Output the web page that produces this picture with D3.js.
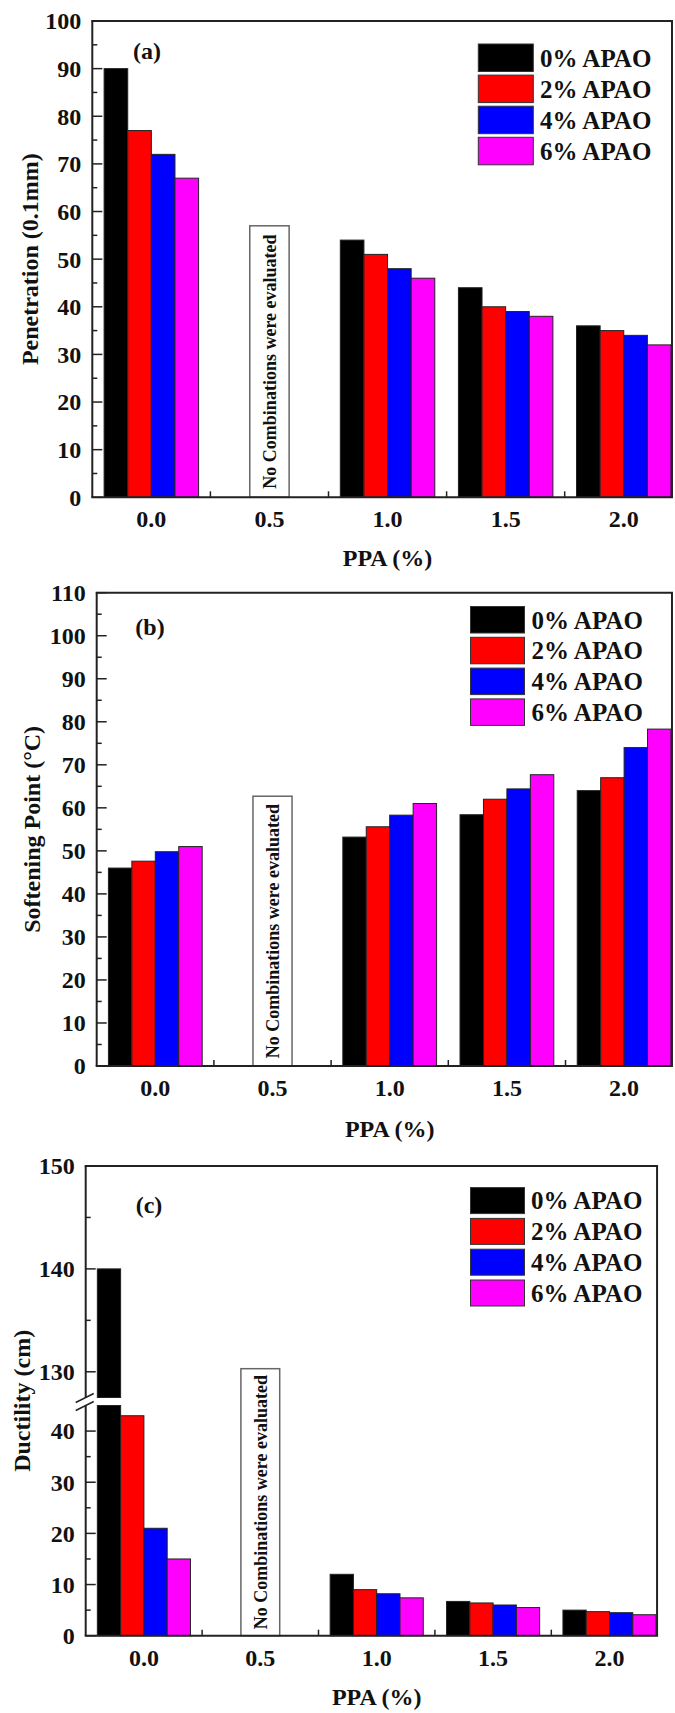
<!DOCTYPE html>
<html>
<head>
<meta charset="utf-8">
<script src="https://cdn.jsdelivr.net/npm/d3@7"></script>
<style>
  body { margin: 0; background: #fff; }
  svg text { font-family: "Liberation Serif", "Times New Roman", serif; font-weight: bold; fill: #111; }
</style>
</head>
<body>
<script>
  // PPA dosage groups and APAO series
  var categories = ["0.0", "0.5", "1.0", "1.5", "2.0"];
  var series = ["0% APAO", "2% APAO", "4% APAO", "6% APAO"];
  var colors = ["#000000", "#ff0000", "#0000ff", "#ff00ff"];

  // one row per PPA group, null where nothing was tested
  var penetration = [[90, 77, 72, 67], null, [54, 51, 48, 46], [44, 40, 39, 38], [36, 35, 34, 32]];
  var softening = [[46, 47.6, 49.8, 51], null, [53.2, 55.6, 58.3, 61], [58.4, 62, 64.4, 67.7], [64, 67, 74, 78.3]];
  var ductility = [[140, 43, 21, 15], null, [12, 9, 8.2, 7.4], [6.7, 6.4, 6, 5.5], [5, 4.7, 4.5, 4.1]];

  // height of the empty-group note box, in axis units
  var noteTop = [57, 62.7, 130.3];
  var noteText = "No Combinations were evaluated";

  var width = 675;
  var height = 1713;
  var svg = d3.select('body').append('svg')
    .attr('width', width)
    .attr('height', height);

  var panels = [
    { tag: "(a)", title: "Penetration (0.1mm)", data: penetration, note: noteTop[0],
      left: 92.3, band: 118.1,
      segs: [{ d: [0, 100], r: [497.3, 21] }],
      tagPos: [147, 59], xLabelY: 527, xTitleY: 566, yTitleX: 30,
      legend: { x: 478.3, y: 44, pitch: 31.1, w: 55, h: 27.5, tx: 540 } },
    { tag: "(b)", title: "Softening Point (°C)", data: softening, note: noteTop[1],
      left: 96.7, band: 117.2,
      segs: [{ d: [0, 110], r: [1066, 592.7] }],
      tagPos: [150, 634.5], xLabelY: 1096, xTitleY: 1137, yTitleX: 32,
      legend: { x: 470.5, y: 606.5, pitch: 30.8, w: 54, h: 26.5, tx: 531.5 } },
    { tag: "(c)", title: "Ductility (cm)", data: ductility, note: noteTop[2],
      left: 85.7, band: 116.4,
      segs: [{ d: [0, 45], r: [1635.7, 1405.5] }, { d: [127.5, 150], r: [1397.5, 1166] }],
      tagPos: [149, 1212.5], xLabelY: 1665.5, xTitleY: 1705, yTitleX: 21.5,
      legend: { x: 470.5, y: 1187.6, pitch: 30.8, w: 54, h: 26, tx: 531 } }
  ];

  panels.forEach(drawPanel);

  function drawPanel(p) {
    var g = svg.append('g');
    var x = d3.scaleBand().domain(categories).range([p.left, p.left + categories.length * p.band]);
    var xs = d3.scaleBand().domain(series).range([0.1 * p.band, 0.9 * p.band]);
    var right = x(categories[categories.length - 1]) + 0.9 * p.band + 1;

    // each axis segment gets its own linear scale (panel c is broken)
    var segs = p.segs.map(function(s) {
      return { d: s.d, y: d3.scaleLinear().domain(s.d).range(s.r) };
    });
    var bottom = segs[0].y(segs[0].d[0]);
    var top = segs[segs.length - 1].y(segs[segs.length - 1].d[1]);
    function yOf(v) {
      var s = segs.find(function(s) { return v <= s.d[1]; }) || segs[segs.length - 1];
      return s.y(v);
    }

    // bars, split over the axis segments
    var rects = [];
    p.data.forEach(function(vals, ci) {
      if (!vals) return;
      vals.forEach(function(v, si) {
        segs.forEach(function(s) {
          if (v <= s.d[0]) return;
          var y0 = s.y(s.d[0]);
          var y1 = s.y(Math.min(v, s.d[1]));
          rects.push({ x: x(categories[ci]) + xs(series[si]), w: xs.bandwidth(), y: y1, h: y0 - y1, c: colors[si] });
        });
      });
    });
    g.selectAll('rect.bar').data(rects).enter().append('rect')
      .attr('class', 'bar')
      .attr('x', d => d.x)
      .attr('y', d => d.y)
      .attr('width', d => d.w)
      .attr('height', d => d.h)
      .attr('fill', d => d.c)
      .attr('stroke', '#222')
      .attr('stroke-width', 1);

    // note box over the empty 0.5 group
    var cx = x("0.5") + p.band / 2;
    var bw = p.band / 3;
    var boxTop = yOf(p.note);
    g.append('rect')
      .attr('x', cx - bw / 2)
      .attr('y', boxTop)
      .attr('width', bw)
      .attr('height', bottom - boxTop)
      .attr('fill', '#fff')
      .attr('stroke', '#666')
      .attr('stroke-width', 1.5);
    g.append('text')
      .attr('transform', 'translate(' + cx + ',' + (boxTop + bottom) / 2 + ') rotate(-90)')
      .attr('text-anchor', 'middle')
      .attr('dy', '0.35em')
      .style('font-size', '18px')
      .text(noteText);

    // frame
    var axisStyle = function(sel) { return sel.attr('stroke', '#222').attr('stroke-width', 2).attr('fill', 'none'); };
    axisStyle(g.append('line').attr('x1', p.left - 1).attr('x2', right + 1).attr('y1', top).attr('y2', top));
    axisStyle(g.append('line').attr('x1', p.left - 1).attr('x2', right + 1).attr('y1', bottom).attr('y2', bottom));
    axisStyle(g.append('line').attr('x1', right).attr('x2', right).attr('y1', top).attr('y2', bottom));
    segs.forEach(function(s) {
      axisStyle(g.append('line').attr('x1', p.left).attr('x2', p.left)
        .attr('y1', s.y(s.d[0])).attr('y2', s.y(s.d[1])));

      var ticks = d3.range(Math.ceil(s.d[0] / 5) * 5, s.d[1] + 0.001, 5);
      ticks.forEach(function(t) {
        var major = t % 10 === 0;
        if (!major && (t === s.d[0] || t === s.d[1])) return;
        g.append('line')
          .attr('x1', p.left).attr('x2', p.left + (major ? 10 : 5))
          .attr('y1', s.y(t)).attr('y2', s.y(t))
          .attr('stroke', '#222').attr('stroke-width', 1.5);
        if (major) {
          g.append('text')
            .attr('x', p.left - 11)
            .attr('y', s.y(t))
            .attr('dy', '0.35em')
            .attr('text-anchor', 'end')
            .style('font-size', '24px')
            .text(t);
        }
      });
    });

    // break marks on the left axis
    if (segs.length > 1) {
      [segs[0].y(segs[0].d[1]), segs[1].y(segs[1].d[0])].forEach(function(yb) {
        g.append('line')
          .attr('x1', p.left - 10).attr('y1', yb + 5)
          .attr('x2', p.left + 8).attr('y2', yb - 4)
          .attr('stroke', '#222').attr('stroke-width', 1.5);
      });
    }

    // x ticks between groups
    categories.slice(1).forEach(function(c) {
      g.append('line')
        .attr('x1', x(c)).attr('x2', x(c))
        .attr('y1', bottom).attr('y2', bottom - 6)
        .attr('stroke', '#222').attr('stroke-width', 1.5);
    });
    g.selectAll('text.xlab').data(categories).enter().append('text')
      .attr('class', 'xlab')
      .attr('x', d => x(d) + p.band / 2)
      .attr('y', p.xLabelY)
      .attr('text-anchor', 'middle')
      .style('font-size', '24px')
      .text(d => d);

    g.append('text')
      .attr('x', x("1.0") + p.band / 2)
      .attr('y', p.xTitleY)
      .attr('text-anchor', 'middle')
      .style('font-size', '24px')
      .text("PPA (%)");

    g.append('text')
      .attr('transform', 'translate(' + p.yTitleX + ',' + (top + bottom) / 2 + ') rotate(-90)')
      .attr('text-anchor', 'middle')
      .attr('dy', '0.35em')
      .style('font-size', '24px')
      .text(p.title);

    g.append('text')
      .attr('x', p.tagPos[0])
      .attr('y', p.tagPos[1])
      .attr('text-anchor', 'middle')
      .style('font-size', '24px')
      .text(p.tag);

    // legend
    var L = p.legend;
    var leg = g.selectAll('g.leg').data(series).enter().append('g')
      .attr('class', 'leg')
      .attr('transform', (d, i) => 'translate(0,' + (L.y + i * L.pitch) + ')');
    leg.append('rect')
      .attr('x', L.x)
      .attr('width', L.w)
      .attr('height', L.h)
      .attr('fill', (d, i) => colors[i])
      .attr('stroke', '#333')
      .attr('stroke-width', 1);
    leg.append('text')
      .attr('x', L.tx)
      .attr('y', L.h / 2)
      .attr('dy', '0.35em')
      .style('font-size', '25px')
      .text(d => d);
  }
</script>
</body>
</html>
